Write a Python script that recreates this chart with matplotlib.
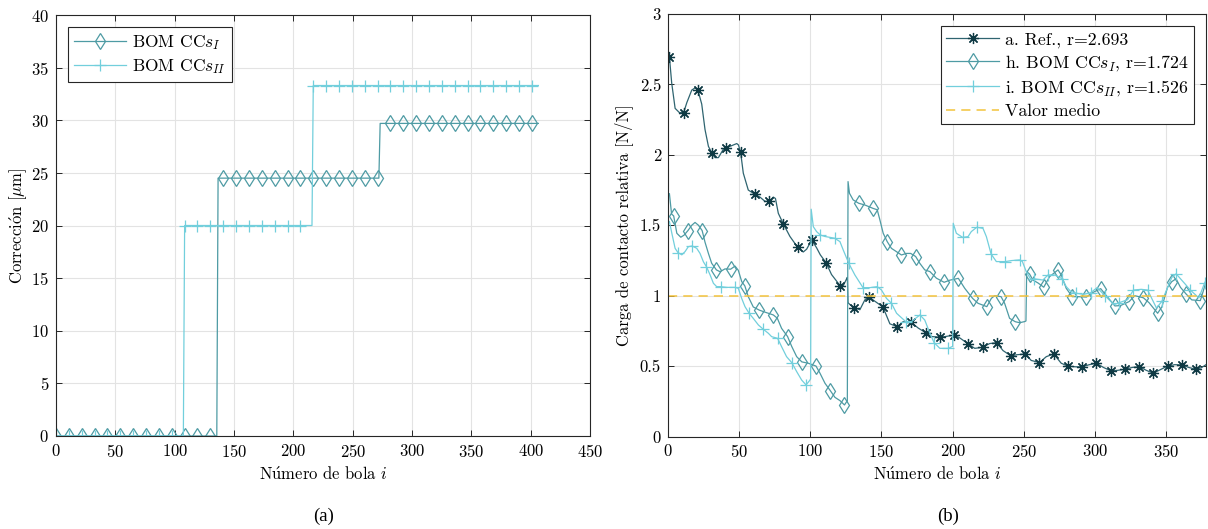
import numpy as np
import matplotlib
matplotlib.use("Agg")
import matplotlib.pyplot as plt

plt.rcParams.update({
    "font.family": ["cmr10", "DejaVu Serif"],
    "mathtext.fontset": "cm",
    "axes.formatter.use_mathtext": True,
    "font.size": 12,
    "axes.unicode_minus": False,
})

# ---------------- (a) corrections per ball ----------------
n_bolas_izq = 376
bola_izq = np.linspace(0, 406.5, n_bolas_izq)
niveles_I = [0.0, 24.5, 29.7]
cambios_I = [126, 252]
niveles_II = [0.0, 20.0, 33.3]
cambios_II = [100, 200]

# ---------------- (b) relative contact load ----------------
ref_x = [1, 2.6, 5, 8, 11, 13.2, 16.7, 19, 21, 23.7, 26, 28.4, 31, 33, 35.4, 38.9, 41, 44.7, 48.3, 49.5,
         51, 52.9, 56.4, 61, 64.6, 68.1, 71, 74, 75.5, 77.5, 81, 85.7, 91, 95, 97.4, 101, 104.4, 107, 111,
         114.9, 121, 123.1, 125.5, 126, 126.5, 128.5, 131, 134.8, 138.3, 141, 145.4, 151, 155.9, 161, 165.2,
         171, 175.8, 181, 185.1, 191, 195, 201, 205, 211, 215.5, 221, 226, 231, 235.4, 241, 244.7, 251,
         255.2, 261, 265.8, 271, 276.3, 281, 286, 291, 296, 301, 306, 311, 316, 321, 326, 331, 336, 341,
         346, 351, 356, 361, 366, 371, 375, 378]
ref_y = [2.693, 2.51, 2.33, 2.30, 2.30, 2.37, 2.46, 2.475, 2.46, 2.36, 2.18, 2.06, 2.01, 1.98, 1.98, 2.04,
         2.05, 2.065, 2.08, 2.07, 2.02, 1.87, 1.75, 1.72, 1.70, 1.67, 1.67, 1.70, 1.69, 1.585, 1.51, 1.42,
         1.345, 1.31, 1.33, 1.395, 1.34, 1.29, 1.235, 1.15, 1.07, 1.07, 1.12, 1.13, 0.95, 0.93, 0.915, 0.90,
         0.97, 0.993, 0.96, 0.92, 0.80, 0.78, 0.815, 0.81, 0.77, 0.737, 0.71, 0.705, 0.71, 0.72, 0.70,
         0.657, 0.626, 0.633, 0.66, 0.666, 0.61, 0.572, 0.58, 0.586, 0.54, 0.525, 0.567, 0.586, 0.52, 0.50,
         0.495, 0.495, 0.51, 0.52, 0.49, 0.467, 0.47, 0.477, 0.49, 0.496, 0.47, 0.449, 0.475, 0.50, 0.51,
         0.508, 0.49, 0.477, 0.49, 0.51]

ccI_x = [1, 2.5, 4, 6.2, 9, 11.3, 14, 16.7, 19, 21.4, 24, 26, 28.4, 30.7, 34, 36.6, 40, 44, 47.1, 49.4,
         51.8, 54, 56.4, 59.9, 64, 67, 70.5, 74, 76.8, 79.8, 84, 86.9, 90.4, 94, 98.6, 104, 106.8, 110.3,
         114, 117.3, 120.8, 124, 125.5, 126, 126.5, 127.5, 130.1, 134, 138.3, 144, 147, 148.9, 151.2, 154,
         157, 159.4, 164, 167.6, 170.5, 174, 176.9, 180.4, 184, 188.6, 194, 198, 204, 208.5, 214, 217.8,
         224, 227.2, 229.5, 234, 236.5, 240, 244, 247.1, 250.6, 251.5, 252, 254, 256.4, 260, 264, 268.1,
         274, 276.3, 279.8, 284, 288, 294, 298, 304, 308, 314, 318, 324, 328, 334, 338, 344, 347, 351,
         354, 357, 360, 364, 368, 374, 376, 378]
ccI_y = [1.724, 1.58, 1.566, 1.443, 1.415, 1.43, 1.462, 1.50, 1.52, 1.50, 1.462, 1.38, 1.30, 1.23, 1.183,
         1.17, 1.19, 1.188, 1.21, 1.18, 1.10, 1.069, 0.993, 0.92, 0.898, 0.887, 0.875, 0.863, 0.84, 0.768,
         0.71, 0.64, 0.567, 0.53, 0.52, 0.50, 0.449, 0.378, 0.326, 0.278, 0.255, 0.224, 0.247, 0.25, 1.81,
         1.727, 1.68, 1.656, 1.644, 1.62, 1.61, 1.537, 1.443, 1.384, 1.336, 1.32, 1.289, 1.30, 1.30, 1.278,
         1.23, 1.183, 1.171, 1.124, 1.095, 1.11, 1.123, 1.052, 0.981, 0.946, 0.922, 0.981, 1.0, 0.993,
         0.946, 0.839, 0.815, 0.808, 0.816, 0.82, 1.171, 1.154, 1.111, 1.09, 1.06, 1.135, 1.183, 1.147,
         1.052, 0.993, 0.993, 0.99, 1.02, 1.05, 1.00, 0.927, 0.93, 0.958, 1.0, 0.985, 0.95, 0.875, 0.92,
         1.06, 1.10, 1.12, 1.06, 1.012, 0.97, 0.965, 1.03, 1.10]

ccII_x = [1, 2.7, 5, 7, 9.7, 12, 14.3, 17, 20.2, 22.5, 24.9, 27, 29.6, 31.9, 34.2, 37, 41.2, 47, 49.4,
          51.8, 54.1, 57, 59.9, 63.5, 67, 70.5, 72.8, 77, 79.8, 83.3, 87, 90.4, 93.9, 97, 99.7, 100.2,
          100.6, 102.1, 104.4, 107, 110.3, 113.8, 117, 120.8, 123.1, 127, 131.3, 137, 141.8, 147, 150,
          153.5, 157, 160.6, 167, 171.1, 177, 180.4, 184, 187, 191, 197, 199.5, 200, 200.4, 202.6, 207,
          210.8, 213.1, 217, 221.3, 223.7, 227, 230.7, 237, 241.2, 247, 249, 251.7, 255.2, 257, 263.4,
          267, 271.6, 277, 279.8, 283, 287, 292, 297, 301.5, 307, 313.4, 317, 323, 327, 332.5, 337,
          343.2, 347, 354, 357, 363.5, 367, 373, 377, 378]
ccII_y = [1.526, 1.443, 1.336, 1.306, 1.29, 1.313, 1.348, 1.353, 1.336, 1.30, 1.24, 1.206, 1.147, 1.088,
          1.064, 1.064, 1.059, 1.059, 1.052, 0.98, 0.922, 0.875, 0.839, 0.792, 0.761, 0.733, 0.709, 0.697,
          0.638, 0.567, 0.524, 0.461, 0.401, 0.366, 0.40, 0.41, 1.614, 1.49, 1.455, 1.431, 1.42, 1.414,
          1.408, 1.384, 1.325, 1.23, 1.147, 1.057, 1.057, 1.064, 1.04, 0.981, 0.946, 0.875, 0.816, 0.816,
          0.863, 0.827, 0.733, 0.666, 0.626, 0.626, 0.638, 0.64, 1.514, 1.443, 1.414, 1.419, 1.455, 1.486,
          1.478, 1.419, 1.296, 1.242, 1.242, 1.249, 1.254, 1.242, 1.171, 1.111, 1.12, 1.111, 1.147, 1.147,
          1.12, 1.064, 1.03, 1.017, 1.009, 1.021, 1.057, 1.00, 0.936, 0.95, 0.972, 1.04, 1.045, 1.04,
          0.912, 0.96, 1.13, 1.155, 1.081, 1.04, 0.984, 1.09, 1.11]

valor_medio = 1.0
r_ref, r_I, r_II = 2.693, 1.724, 1.526

# colours
c_ref = "#2f6470"
c_ref_mark = "#0f3a44"
c_I = "#4e9ba4"
c_II = "#72cfdc"
c_mean = "#f3c33c"
c_axis = "#262626"
c_grid = "#e3e3e3"


def step_series(levels, breaks, n):
    counts = np.diff([0] + list(breaks) + [n])
    return np.repeat(levels, counts)


def style_axes(ax):
    ax.grid(True, color=c_grid, linewidth=0.8)
    ax.set_axisbelow(True)
    for s in ax.spines.values():
        s.set_color(c_axis)
        s.set_linewidth(0.8)
    ax.tick_params(direction="in", top=True, right=True, length=4, width=0.7,
                   color=c_axis, labelsize=12, pad=5)


fig = plt.figure(figsize=(12.08, 5.29), dpi=100)

# ----- left panel -----
ax1 = fig.add_axes([56 / 1208, 93 / 529, 534 / 1208, 421 / 529])
corr_I = step_series(niveles_I, cambios_I, n_bolas_izq)
corr_II = step_series(niveles_II, cambios_II, n_bolas_izq)
ax1.plot(bola_izq, corr_I, color=c_I, lw=0.9, marker="d", ms=8, mfc="none", mew=0.9,
         markevery=10, label=r"BOM CC$s_I$")
ax1.plot(bola_izq, corr_II, color=c_II, lw=0.9, marker="+", ms=9, mew=0.9,
         markevery=10, label=r"BOM CC$s_{II}$")
ax1.set_xlim(0, 450)
ax1.set_ylim(0, 40)
ax1.set_xticks(np.arange(0, 451, 50))
ax1.set_yticks(np.arange(0, 41, 5))
style_axes(ax1)
ax1.set_xlabel(r"N$\mathrm{\acute{u}}$mero de bola $i$", fontsize=12, labelpad=4)
ax1.set_ylabel(r"Correcci$\mathrm{\acute{o}}$n [$\mu$m]", fontsize=12, labelpad=1)
leg1 = ax1.legend(loc="upper left", fancybox=False, framealpha=1, edgecolor=c_axis,
                  handlelength=3.0, handletextpad=0.3, borderaxespad=0.7, fontsize=12.5,
                  labelspacing=0.3, borderpad=0.35)
leg1.get_frame().set_linewidth(0.8)

# ----- right panel -----
ax2 = fig.add_axes([668 / 1208, 92.5 / 529, 538 / 1208, 422.5 / 529])


def marks(xs, start):
    return np.isin(np.asarray(xs, dtype=float), np.arange(start, 380, 10)).tolist()


ax2.plot(ref_x, ref_y, color=c_ref, lw=0.9, marker=(8, 2, 0), ms=8, mew=0.9,
         markeredgecolor=c_ref_mark, markevery=marks(ref_x, 1), label=f"a. Ref., r={r_ref:.3f}")
ax2.plot(ccI_x, ccI_y, color=c_I, lw=0.9, marker="d", ms=8, mfc="none", mew=0.9,
         markevery=marks(ccI_x, 4), label=rf"h. BOM CC$s_I$, r={r_I:.3f}")
ax2.plot(ccII_x, ccII_y, color=c_II, lw=0.9, marker="+", ms=9, mew=0.9,
         markevery=marks(ccII_x, 7), label=rf"i. BOM CC$s_{{II}}$, r={r_II:.3f}")
ax2.axhline(valor_medio, color=c_mean, lw=1.1, ls=(0, (6, 4)), label="Valor medio")
ax2.set_xlim(0, 378)
ax2.set_ylim(0, 3)
ax2.set_xticks(np.arange(0, 351, 50))
ax2.set_yticks(np.arange(0, 3.01, 0.5))
ax2.set_yticklabels(["0", "0.5", "1", "1.5", "2", "2.5", "3"])
style_axes(ax2)
ax2.set_xlabel(r"N$\mathrm{\acute{u}}$mero de bola $i$", fontsize=12, labelpad=4)
ax2.set_ylabel("Carga de contacto relativa [N/N]", fontsize=12, labelpad=5)
leg2 = ax2.legend(loc="upper right", fancybox=False, framealpha=1, edgecolor=c_axis,
                  handlelength=3.0, handletextpad=0.3, borderaxespad=0.7, fontsize=12.8,
                  labelspacing=0.3, borderpad=0.3)
leg2.get_frame().set_linewidth(0.8)

fig.text(324 / 1208, 1 - 516 / 529, "(a)", ha="center", va="center",
         family="Liberation Serif", fontsize=13.5)
fig.text(948 / 1208, 1 - 516 / 529, "(b)", ha="center", va="center",
         family="Liberation Serif", fontsize=13.5)

fig.savefig("out.png", dpi=100, facecolor="white")
